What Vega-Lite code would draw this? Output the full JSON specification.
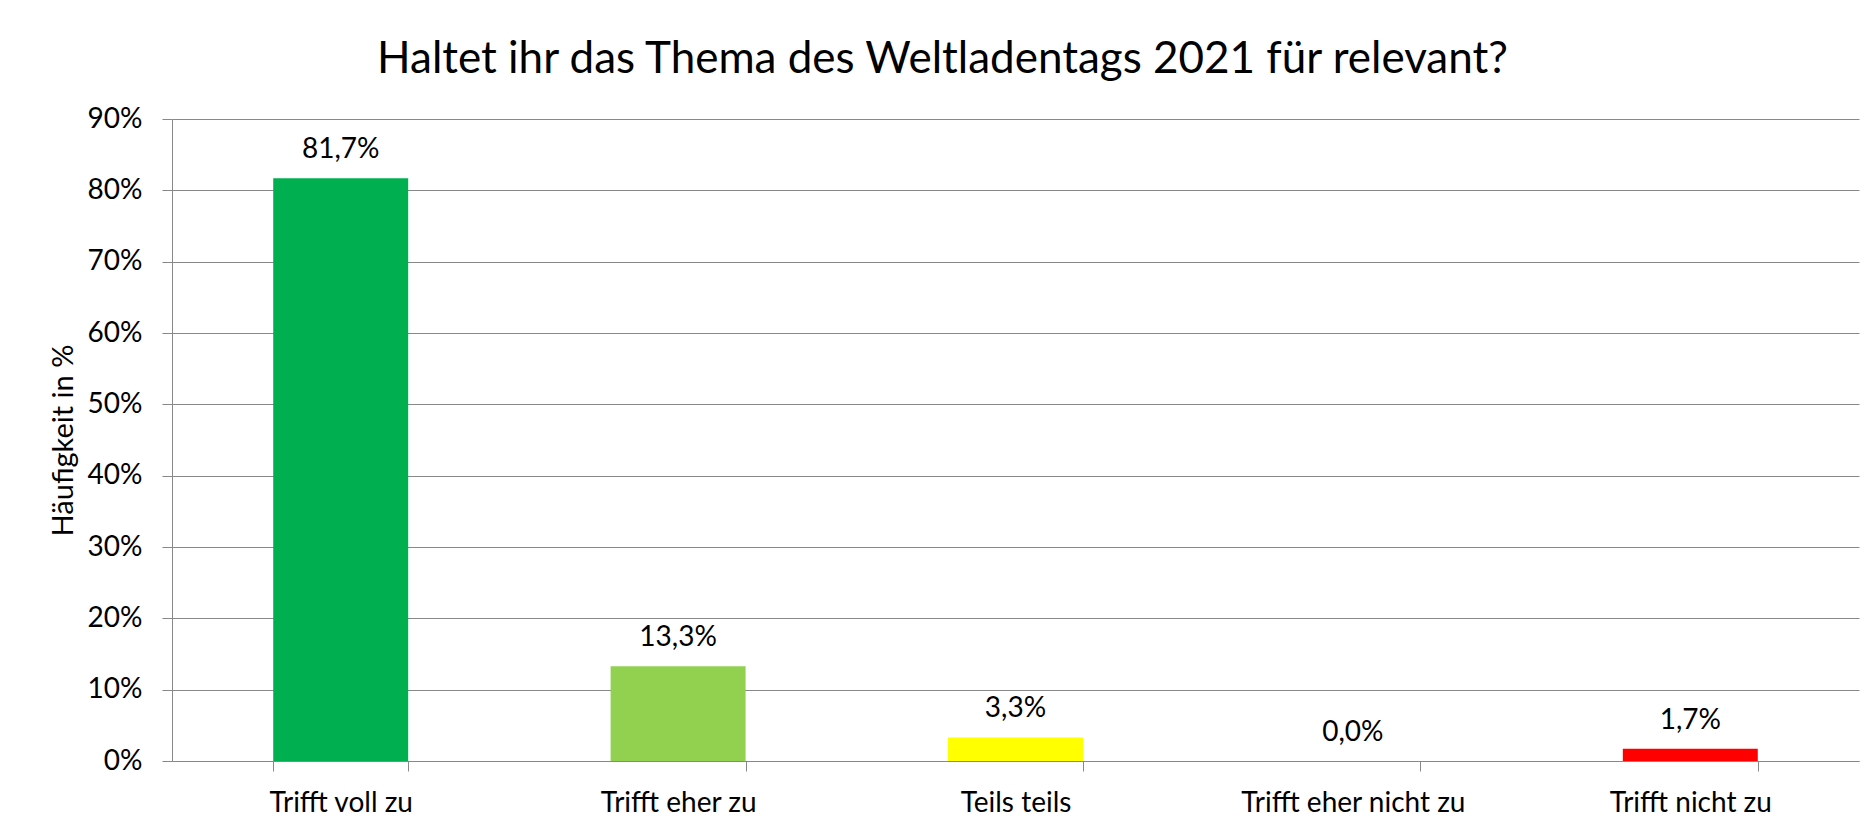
{
  "$schema": "https://vega.github.io/schema/vega-lite/v6.json",
  "width": 1687,
  "height": 642,
  "autosize": {"type": "none"},
  "padding": {"left": 172, "top": 119, "right": 13, "bottom": 69},
  "background": "white",
  "title": {
    "text": "Haltet ihr das Thema des Weltladentags 2021 für relevant?",
    "font": "Lato",
    "fontSize": 44,
    "fontWeight": "normal",
    "color": "black",
    "anchor": "middle",
    "baseline": "alphabetic",
    "dx": -73,
    "dy": 58,
    "offset": 46
  },
  "config": {
    "locale": {"number": {"decimal": ",", "thousands": ".", "grouping": [3], "currency": ["", " €"]}},
    "view": {"stroke": null},
    "axis": {"labelFont": "Lato", "labelColor": "black", "titleFont": "Lato", "titleColor": "black", "titleFontWeight": "normal"}
  },
  "data": {
    "values": [
      {"Antwort": "Trifft voll zu", "Anteil": 0.817},
      {"Antwort": "Trifft eher zu", "Anteil": 0.133},
      {"Antwort": "Teils teils", "Anteil": 0.033},
      {"Antwort": "Trifft eher nicht zu", "Anteil": 0.0},
      {"Antwort": "Trifft nicht zu", "Anteil": 0.017}
    ]
  },
  "encoding": {
    "x": {
      "field": "Antwort",
      "type": "nominal",
      "sort": null,
      "scale": {"paddingInner": 0.6, "paddingOuter": 0.3},
      "axis": {
        "title": null,
        "labelAngle": 0,
        "labelFontSize": 28,
        "labelLimit": 0,
        "labelBaseline": "alphabetic",
        "labelPadding": 40,
        "tickBand": "extent",
        "ticks": true,
        "tickSize": 10,
        "tickColor": "#888888",
        "domainColor": "#888888",
        "grid": false
      }
    },
    "y": {
      "field": "Anteil",
      "type": "quantitative",
      "scale": {"domain": [0, 0.9], "nice": false},
      "axis": {
        "title": "Häufigkeit in %",
        "titleFontSize": 29,
        "titlePadding": 9,
        "values": [0, 0.1, 0.2, 0.3, 0.4, 0.5, 0.6, 0.7, 0.8, 0.9],
        "format": ".0%",
        "labelFontSize": 28,
        "labelPadding": 20,
        "tickSize": 10,
        "tickColor": "#888888",
        "domainColor": "#888888",
        "grid": true,
        "gridColor": "#888888",
        "gridOpacity": 1
      }
    }
  },
  "layer": [
    {
      "mark": {"type": "bar"},
      "encoding": {
        "color": {
          "field": "Antwort",
          "type": "nominal",
          "sort": null,
          "scale": {
            "domain": ["Trifft voll zu", "Trifft eher zu", "Teils teils", "Trifft eher nicht zu", "Trifft nicht zu"],
            "range": ["#00B050", "#92D050", "#FFFF00", "#FFC000", "#FF0000"]
          },
          "legend": null
        }
      }
    },
    {
      "mark": {"type": "text", "font": "Lato", "fontSize": 28, "color": "black", "baseline": "alphabetic", "dy": -20},
      "encoding": {
        "text": {"field": "Anteil", "type": "quantitative", "format": ".1%"}
      }
    }
  ]
}
